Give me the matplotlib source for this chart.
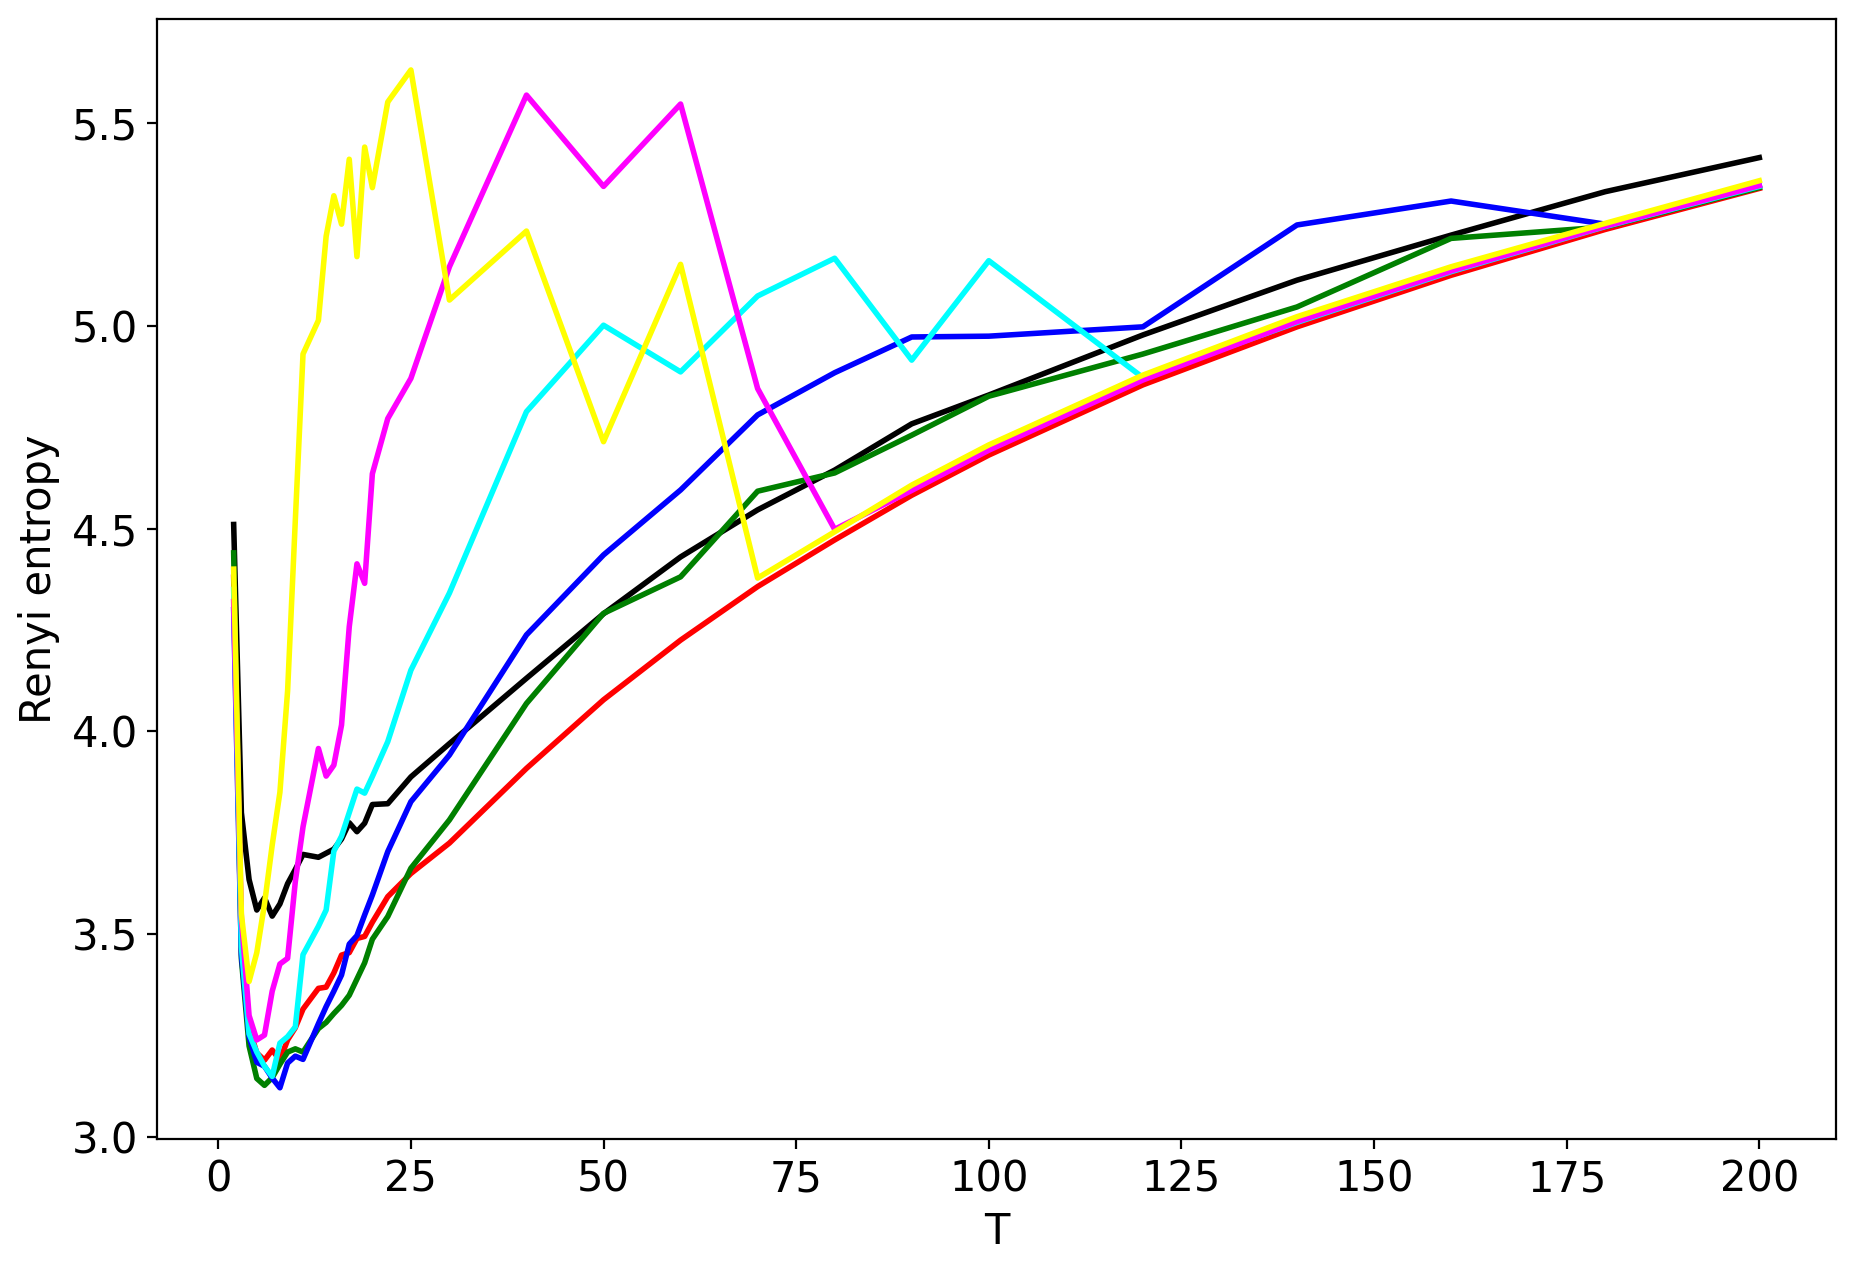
import matplotlib
matplotlib.use('Agg')
import matplotlib.pyplot as plt

plt.rcParams['font.size'] = 15

# T values shared by all curves
T = [2, 3, 4, 5, 6, 7, 8, 9, 10, 11, 13, 14, 15, 16, 17, 18, 19, 20, 22, 25,
     30, 40, 50, 60, 70, 80, 90, 100, 120, 140, 160, 180, 200]

black = [4.51, 3.80, 3.635, 3.56, 3.59, 3.545, 3.575, 3.625, 3.66, 3.697,
         3.69, 3.70, 3.71, 3.735, 3.775, 3.753, 3.774, 3.82, 3.822, 3.888,
         3.97, 4.131, 4.29, 4.43, 4.546, 4.644, 4.758, 4.829, 4.977, 5.112,
         5.223, 5.33, 5.414]

red = [4.38, 3.50, 3.27, 3.208, 3.19, 3.215, 3.19, 3.24, 3.27, 3.316,
       3.367, 3.37, 3.405, 3.449, 3.455, 3.49, 3.495, 3.53, 3.593, 3.65,
       3.725, 3.909, 4.078, 4.225, 4.357, 4.472, 4.582, 4.681, 4.854, 4.997,
       5.124, 5.237, 5.338]

green = [4.44, 3.44, 3.225, 3.145, 3.128, 3.147, 3.18, 3.21, 3.218, 3.21,
         3.268, 3.283, 3.305, 3.325, 3.35, 3.39, 3.43, 3.488, 3.544, 3.663,
         3.782, 4.069, 4.291, 4.381, 4.592, 4.637, 4.73, 4.826, 4.93, 5.046,
         5.215, 5.243, 5.34]

blue = [4.30, 3.45, 3.248, 3.185, 3.175, 3.146, 3.122, 3.183, 3.20, 3.192,
        3.28, 3.322, 3.36, 3.40, 3.476, 3.497, 3.548, 3.597, 3.704, 3.827,
        3.942, 4.238, 4.435, 4.595, 4.78, 4.884, 4.972, 4.974, 4.997, 5.248,
        5.307, 5.25, 5.345]

cyan = [4.35, 3.47, 3.255, 3.21, 3.175, 3.15, 3.232, 3.248, 3.272, 3.45,
        3.52, 3.56, 3.705, 3.742, 3.80, 3.858, 3.848, 3.889, 3.975, 4.151,
        4.341, 4.788, 5.001, 4.886, 5.073, 5.166, 4.915, 5.16, 4.872, 5.008,
        5.133, 5.244, 5.343]

magenta = [4.32, 3.54, 3.30, 3.24, 3.252, 3.36, 3.427, 3.441, 3.63, 3.765,
           3.958, 3.89, 3.917, 4.016, 4.258, 4.413, 4.365, 4.635, 4.771, 4.87,
           5.145, 5.568, 5.343, 5.546, 4.845, 4.498, 4.594, 4.693, 4.866, 5.01,
           5.135, 5.245, 5.345]

yellow = [4.40, 3.55, 3.384, 3.455, 3.575, 3.72, 3.85, 4.10, 4.52, 4.93,
          5.013, 5.22, 5.32, 5.25, 5.41, 5.17, 5.44, 5.34, 5.551, 5.63,
          5.063, 5.233, 4.714, 5.151, 4.378, 4.492, 4.607, 4.706, 4.878, 5.022,
          5.145, 5.252, 5.357]

curves = [black, red, green, blue, cyan, magenta, yellow]
colours = ['black', 'red', 'green', 'blue', 'cyan', 'magenta', 'yellow']

fig, ax = plt.subplots(figsize=(1856 / 200, 1270 / 200), dpi=200)
fig.subplots_adjust(left=0.0848, right=0.989, bottom=0.1034, top=0.985)

for vals, col in zip(curves, colours):
    ax.plot(T, vals, color=col, linewidth=2)

ax.set_xlabel('T')
ax.set_ylabel('Renyi entropy')
ax.set_xticks([0, 25, 50, 75, 100, 125, 150, 175, 200])
ax.set_yticks([3.0, 3.5, 4.0, 4.5, 5.0, 5.5])

fig.savefig('out.png', dpi=200)
